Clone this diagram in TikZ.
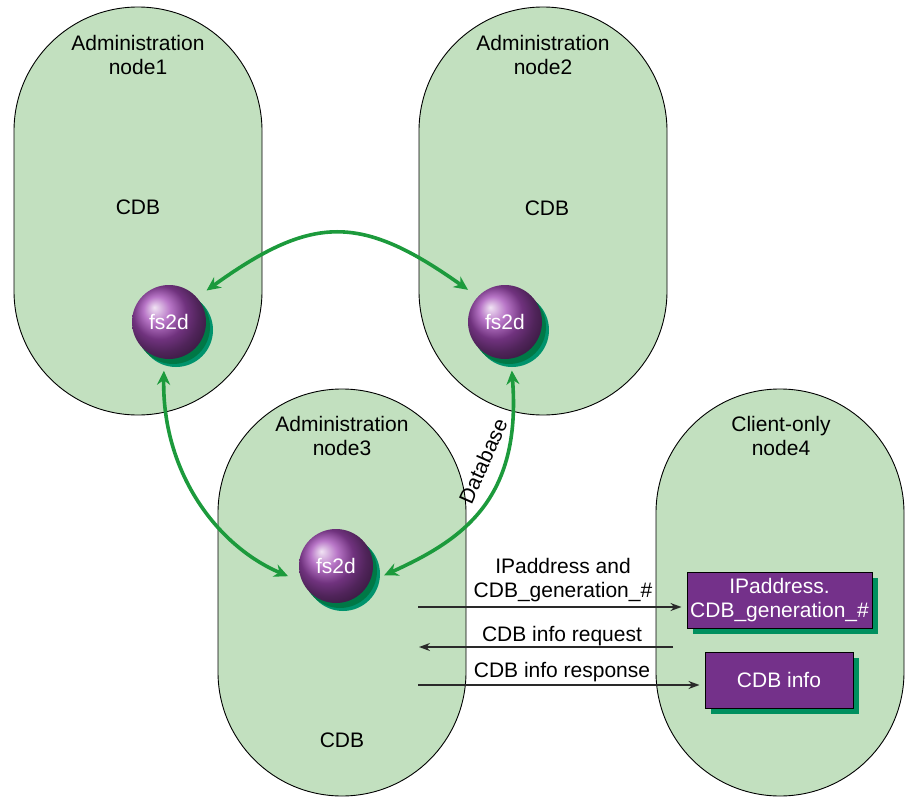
\documentclass[tikz,border=0pt]{standalone}
\usepackage{fontspec}
\setmainfont{Liberation Sans}
\usetikzlibrary{arrows.meta,shadows}
\definecolor{nodegreen}{HTML}{C2E0BF}
\definecolor{arcgreen}{HTML}{1C9A3C}
\definecolor{spherepurple}{HTML}{A048B4}
\definecolor{shadowlight}{HTML}{00936C}
\definecolor{shadowdark}{HTML}{007846}
\definecolor{boxpurple}{HTML}{74318A}
\definecolor{boxshadow}{HTML}{00905F}
\definecolor{arrowgray}{HTML}{2A2A2A}
\begin{document}
\begin{tikzpicture}[x=1pt,y=-1pt,
  font=\fontsize{21}{24}\selectfont,
  stadium/.style={draw=black, line width=0.9pt, fill=nodegreen, rounded corners=124pt},
  lbl/.style={inner sep=0pt, align=center, text=black},
  sphere/.style={circle, minimum size=74pt, inner sep=0pt, outer sep=12pt, ball color=spherepurple, text=white},
  garrow/.style={draw=arcgreen, line width=3.6pt, {Stealth[length=14pt,width=13pt]}-{Stealth[length=14pt,width=13pt]}},
  karrow/.style={draw=arrowgray, line width=1.4pt, -{Stealth[length=11pt,width=8pt]}},
  msgbox/.style={draw=black, line width=1pt, fill=boxpurple, text=white, align=center, inner sep=0pt,
    general shadow={fill=boxshadow, shadow xshift=6pt, shadow yshift=-6pt}}
]
\useasboundingbox (0,0) rectangle (905,797);

% cluster nodes
\path[stadium] (14,7) rectangle (262,415);
\path[stadium] (419,7) rectangle (667,415);
\path[stadium] (218,389) rectangle (466,796);
\path[stadium] (656,389) rectangle (904,796);

% labels
\node[lbl] (t1) at (138,55) {Administration\\node1};
\node[lbl] (c1) at (138,207) {CDB};
\node[lbl] (t2) at (543,55) {Administration\\node2};
\node[lbl] (c2) at (547,208) {CDB};
\node[lbl] (t3) at (342,436) {Administration\\node3};
\node[lbl] (c3) at (342,740) {CDB};
\node[lbl] (t4) at (781,436) {Client-only\\node4};

% spheres with shadows
\fill[shadowlight] (169,322) ++(7,8) circle[radius=37pt];
\fill[shadowdark] (169,322) ++(4,5) circle[radius=37pt];
\node[sphere] (s1) at (169,322) {fs2d};
\fill[shadowlight] (505,322) ++(7,8) circle[radius=37pt];
\fill[shadowdark] (505,322) ++(4,5) circle[radius=37pt];
\node[sphere] (s2) at (505,322) {fs2d};
\fill[shadowlight] (336,566) ++(7,8) circle[radius=37pt];
\fill[shadowdark] (336,566) ++(4,5) circle[radius=37pt];
\node[sphere] (s3) at (336,566) {fs2d};

% green arcs
\draw[garrow] (s1.40) .. controls (313,214) and (361,214) .. (s2.139);
\draw[garrow] (s1.-96) .. controls (162,470) and (215,545) .. (s3.192);
\draw[garrow] (s2.-82) .. controls (522,500) and (462,540) .. (s3.-11);
\node[lbl, rotate=66] (db) at (483,461) {Database};

% message boxes
\node[msgbox, minimum width=185pt, minimum height=56pt] (b1) at (779.5,600) {IPaddress.\\CDB\_generation\_\#};
\node[msgbox, minimum width=148pt, minimum height=56pt] (b2) at (779,680) {CDB info};

% message arrows
\coordinate (a1s) at (418,607);
\coordinate (a2s) at (673,647);
\coordinate (a2e) at (419,647);
\coordinate (a3s) at (418,685);
\draw[karrow, shorten >=5pt] (a1s) -- (a1s -| b1.west);
\draw[karrow] (a2s) -- (a2e);
\draw[karrow, shorten >=5pt] (a3s) -- (a3s -| b2.west);
\node[lbl] (m1) at (563,580) {IPaddress and\\CDB\_generation\_\#};
\node[lbl] (m2) at (562,636) {CDB info request};
\node[lbl] (m3) at (562,672) {CDB info response};
\end{tikzpicture}
\end{document}
